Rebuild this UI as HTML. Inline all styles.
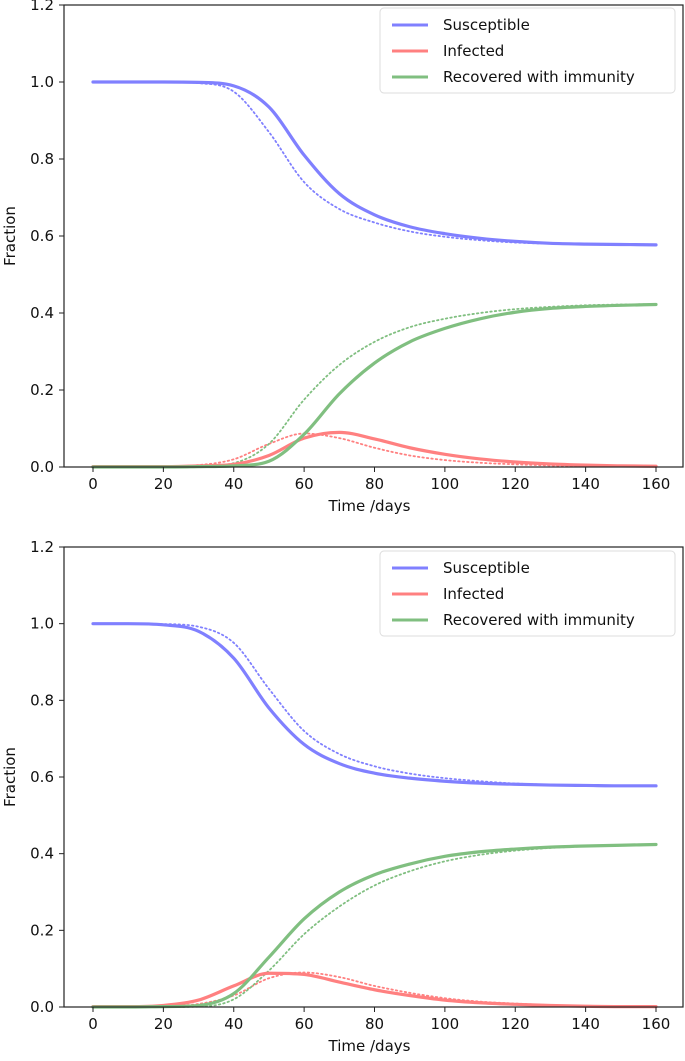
<!DOCTYPE html>
<html><head><meta charset="utf-8"><style>
html,body{margin:0;padding:0;background:#fff;}
svg{display:block;font-family:"DejaVu Sans","Liberation Sans",sans-serif;}
</style></head><body>
<svg id="fig" width="685" height="1061" viewBox="0 0 685 1061"></svg>
<script>
const days=[0,10,20,30,40,50,60,70,80,90,100,110,120,130,140,150,160];
const xTicks=[0,20,40,60,80,100,120,140,160];
const yTicks=[0.0,0.2,0.4,0.6,0.8,1.0,1.2];
const topSolidS=[1,1,1,0.999,0.99,0.935,0.81,0.71,0.655,0.624,0.606,0.594,0.586,0.581,0.579,0.578,0.577];
const topSolidI=[0.001,0.001,0.001,0.003,0.007,0.03,0.075,0.09,0.073,0.05,0.033,0.021,0.013,0.008,0.005,0.003,0.002];
const topSolidR=[0,0,0,0.001,0.003,0.015,0.085,0.19,0.27,0.325,0.36,0.385,0.402,0.412,0.417,0.42,0.422];
const topDotS=[1,1,1,0.997,0.975,0.87,0.74,0.67,0.635,0.612,0.598,0.589,0.583,0.58,0.578,0.577,0.577];
const topDotI=[0.001,0.001,0.002,0.005,0.02,0.06,0.087,0.075,0.05,0.03,0.018,0.011,0.007,0.004,0.002,0.001,0.001];
const topDotR=[0,0,0,0.002,0.01,0.06,0.175,0.265,0.325,0.363,0.385,0.4,0.41,0.416,0.42,0.422,0.423];
const botSolidS=[1,1,0.997,0.98,0.91,0.78,0.685,0.635,0.61,0.597,0.589,0.584,0.581,0.579,0.578,0.577,0.577];
const botSolidI=[0.001,0.001,0.004,0.018,0.055,0.088,0.085,0.065,0.045,0.03,0.018,0.011,0.007,0.004,0.002,0.001,0.001];
const botSolidR=[0,0,0.001,0.004,0.035,0.13,0.23,0.3,0.345,0.373,0.393,0.405,0.412,0.417,0.42,0.422,0.424];
const botDotS=[1,1,0.999,0.992,0.95,0.83,0.72,0.66,0.628,0.609,0.597,0.589,0.583,0.58,0.578,0.577,0.577];
const botDotI=[0.001,0.001,0.002,0.008,0.03,0.075,0.09,0.078,0.055,0.037,0.023,0.014,0.009,0.005,0.003,0.002,0.001];
const botDotR=[0,0,0,0.001,0.02,0.095,0.19,0.262,0.317,0.354,0.38,0.397,0.408,0.415,0.419,0.421,0.423];
const legendLabels=["Susceptible","Infected","Recovered with immunity"];

const NS="http://www.w3.org/2000/svg";
const svg=document.getElementById('fig');
const COL={S:"#8080ff",I:"#ff8080",R:"#80bf80"};
function mk(tag,attrs,parent){const e=document.createElementNS(NS,tag);for(const k in attrs)e.setAttribute(k,attrs[k]);(parent||svg).appendChild(e);return e;}
// monotone cubic (Fritsch-Carlson)
function path(pts){const n=pts.length,dx=[],m=[],t=[];
 for(let i=0;i<n-1;i++){dx[i]=pts[i+1][0]-pts[i][0];m[i]=(pts[i+1][1]-pts[i][1])/dx[i];}
 t[0]=m[0];t[n-1]=m[n-2];
 for(let i=1;i<n-1;i++){t[i]=(m[i-1]*m[i]<=0)?0:(m[i-1]+m[i])/2;}
 for(let i=0;i<n-1;i++){if(m[i]===0){t[i]=0;t[i+1]=0;continue;}
  const a=t[i]/m[i],b=t[i+1]/m[i],s=a*a+b*b;if(s>9){const k=3/Math.sqrt(s);t[i]=k*a*m[i];t[i+1]=k*b*m[i];}}
 let d="M"+pts[0][0].toFixed(2)+","+pts[0][1].toFixed(2);
 for(let i=0;i<n-1;i++){const h=dx[i]/3;
  d+=" C"+(pts[i][0]+h).toFixed(2)+","+(pts[i][1]+t[i]*h).toFixed(2)+" "+(pts[i+1][0]-h).toFixed(2)+","+(pts[i+1][1]-t[i+1]*h).toFixed(2)+" "+pts[i+1][0].toFixed(2)+","+pts[i+1][1].toFixed(2);}
 return d;}
function chart(id,top,bottom,series,legTop){
 const L=64,R=683;
 const xs=d=>93+(d/160)*563;
 const ys=v=>bottom-(v/1.2)*(bottom-top);
 const g=mk('g',{});
 
 
 series.forEach(s=>{
  const p=mk('path',{d:path(days.map((d,i)=>[xs(d),ys(s.v[i])])),fill:'none',stroke:COL[s.k],'stroke-width':s.dot?1.8:3.2,'stroke-dasharray':s.dot?'1.5,3':'none','stroke-linecap':'round'},g);
  
  
 });
 const fr=mk('rect',{x:L,y:top,width:R-L,height:bottom-top,fill:'none',stroke:'#222','stroke-width':1.2},g);
 
 
 xTicks.forEach(t=>{
  mk('line',{x1:xs(t),x2:xs(t),y1:bottom,y2:bottom+5,stroke:'#222'},g);
  const tx=mk('text',{x:xs(t),y:bottom+22,'text-anchor':'middle','font-size':15,fill:'#111'},g);tx.textContent=t;
  
  
 });
 yTicks.forEach(t=>{
  mk('line',{x1:L-5,x2:L,y1:ys(t),y2:ys(t),stroke:'#222'},g);
  const tx=mk('text',{x:L-10,y:ys(t)+5,'text-anchor':'end','font-size':15,fill:'#111'},g);tx.textContent=t.toFixed(1);
  
  
 });
 const xl=mk('text',{x:(L+R)/2-4,y:bottom+44,'text-anchor':'middle','font-size':15,fill:'#111'},g);xl.textContent='Time /days';
 
 
 const cy=(top+bottom)/2;
 const yl=mk('text',{x:15,y:cy,'text-anchor':'middle','font-size':15,fill:'#111',transform:`rotate(-90 15 ${cy})`},g);yl.textContent='Fraction';
 
 
 const lg=mk('g',{},g);
 
 
 mk('rect',{x:380,y:legTop,width:295,height:85,rx:4,fill:'#fff',stroke:'#ddd'},lg);
 ['S','I','R'].forEach((k,i)=>{
  const yy=legTop+17+i*26;
  mk('line',{x1:392,x2:428,y1:yy,y2:yy,stroke:COL[k],'stroke-width':3},lg);
  const t=mk('text',{x:443,y:yy+5,'font-size':15,fill:'#111'},lg);t.textContent=legendLabels[i];
  
  
 });
}
chart('top-chart',5,467,[{k:'S',v:topDotS,dot:1},{k:'I',v:topDotI,dot:1},{k:'R',v:topDotR,dot:1},{k:'S',v:topSolidS},{k:'I',v:topSolidI},{k:'R',v:topSolidR}],8);
chart('bottom-chart',547,1007,[{k:'S',v:botDotS,dot:1},{k:'I',v:botDotI,dot:1},{k:'R',v:botDotR,dot:1},{k:'S',v:botSolidS},{k:'I',v:botSolidI},{k:'R',v:botSolidR}],551);
</script>
</body></html>
